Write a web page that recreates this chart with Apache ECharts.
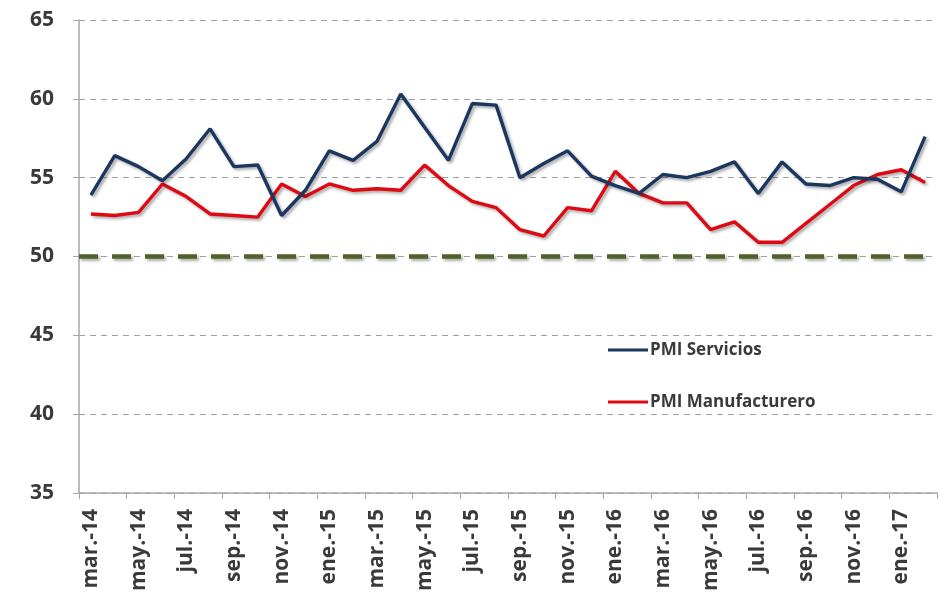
<!DOCTYPE html>
<html>
<head>
<meta charset="utf-8">
<script src="https://cdn.jsdelivr.net/npm/echarts@6/dist/echarts.min.js"></script>
<style>
  html, body { margin: 0; padding: 0; background: #ffffff; }
  #chart { width: 944px; height: 604px; }
</style>
</head>
<body>
<div id="chart"></div>
<script>
// Monthly PMI readings, March 2014 to February 2017
const months = [
  'mar.-14','abr.-14','may.-14','jun.-14','jul.-14','ago.-14','sep.-14','oct.-14','nov.-14','dic.-14',
  'ene.-15','feb.-15','mar.-15','abr.-15','may.-15','jun.-15','jul.-15','ago.-15','sep.-15','oct.-15','nov.-15','dic.-15',
  'ene.-16','feb.-16','mar.-16','abr.-16','may.-16','jun.-16','jul.-16','ago.-16','sep.-16','oct.-16','nov.-16','dic.-16',
  'ene.-17','feb.-17'
];

const pmiServicios = [
  53.9, 56.4, 55.7, 54.8, 56.2, 58.1, 55.7, 55.8, 52.6, 54.2,
  56.7, 56.1, 57.3, 60.3, 58.2, 56.1, 59.7, 59.6, 55.0, 55.9, 56.7, 55.1,
  54.5, 54.0, 55.2, 55.0, 55.4, 56.0, 54.0, 56.0, 54.6, 54.5, 55.0, 54.9,
  54.1, 57.6
];

const pmiManufacturero = [
  52.7, 52.6, 52.8, 54.6, 53.8, 52.7, 52.6, 52.5, 54.6, 53.8,
  54.6, 54.2, 54.3, 54.2, 55.8, 54.5, 53.5, 53.1, 51.7, 51.3, 53.1, 52.9,
  55.4, 54.0, 53.4, 53.4, 51.7, 52.2, 50.9, 50.9, 52.1, 53.3, 54.5, 55.2,
  55.5, 54.7
];

const yTicks = { min: 35, max: 65, step: 5 };
const threshold = 50;

const textColor = '#3a3a3a';
const fontFamily = '"Open Sans", "Noto Sans", sans-serif';

const chart = echarts.init(document.getElementById('chart'));

const lineShadow = {
  shadowColor: 'rgba(0,0,0,0.35)',
  shadowBlur: 3,
  shadowOffsetX: 2,
  shadowOffsetY: 2
};

chart.setOption({
  animation: false,
  backgroundColor: '#ffffff',
  grid: { left: 79, top: 20, right: 7, bottom: 111 },
  legend: {
    orient: 'vertical',
    left: 603,
    top: 335,
    itemWidth: 40,
    itemHeight: 3,
    itemGap: 32,
    icon: 'rect',
    textStyle: {
      color: textColor, fontSize: 17, fontWeight: 'bold', fontFamily: fontFamily,
      lineHeight: 20, padding: [0, 0, 0, -3]
    },
    data: ['PMI Servicios', 'PMI Manufacturero']
  },
  xAxis: {
    type: 'category',
    data: months,
    boundaryGap: true,
    axisLine: { lineStyle: { color: '#a6a6a6', width: 1.5 } },
    axisTick: { show: true, interval: 1, length: 6, lineStyle: { color: '#a6a6a6' } },
    axisLabel: {
      interval: 1,
      rotate: 90,
      margin: 16,
      color: textColor,
      fontSize: 21,
      fontWeight: 'bold',
      fontFamily: fontFamily
    },
    splitLine: { show: false }
  },
  yAxis: {
    type: 'value',
    min: yTicks.min,
    max: yTicks.max,
    interval: yTicks.step,
    axisLine: { show: true, lineStyle: { color: '#a6a6a6', width: 1.5 } },
    axisTick: { show: true, length: 6, lineStyle: { color: '#a6a6a6' } },
    axisLabel: {
      margin: 25,
      color: textColor,
      fontSize: 21,
      fontWeight: 'bold',
      fontFamily: fontFamily
    },
    splitLine: {
      show: true,
      lineStyle: { color: '#a0a0a0', width: 1, type: [6, 5] }
    }
  },
  series: [
    {
      name: 'PMI Servicios',
      type: 'line',
      data: pmiServicios,
      symbol: 'none',
      color: '#1b365f',
      lineStyle: Object.assign({ width: 3.4, color: '#1b365f' }, lineShadow),
      z: 4,
      markLine: {
        silent: true,
        symbol: 'none',
        label: { show: false },
        lineStyle: Object.assign({ color: '#4f6228', width: 4.5, type: [19, 14] }, lineShadow),
        data: [{ yAxis: threshold }]
      }
    },
    {
      name: 'PMI Manufacturero',
      type: 'line',
      data: pmiManufacturero,
      symbol: 'none',
      color: '#dd0a14',
      lineStyle: Object.assign({ width: 3.4, color: '#dd0a14' }, lineShadow),
      z: 3
    }
  ]
});
</script>
</body>
</html>
